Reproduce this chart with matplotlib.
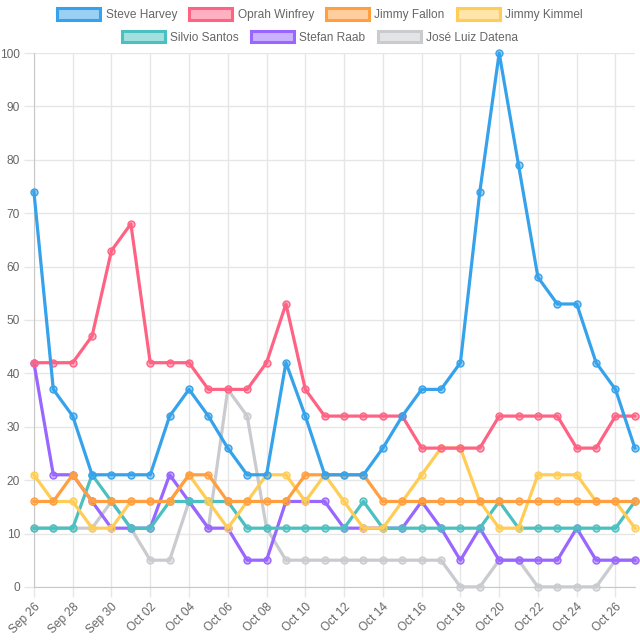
from matplotlib import pyplot as plt
from matplotlib.patches import Patch
from matplotlib.colors import to_rgba

plt.rcParams['font.family'] = ['Liberation Sans', 'DejaVu Sans']

# Datos
dates = ["Sep 26", "Sep 27", "Sep 28", "Sep 29", "Sep 30", "Oct 01", "Oct 02", "Oct 03",
         "Oct 04", "Oct 05", "Oct 06", "Oct 07", "Oct 08", "Oct 09", "Oct 10", "Oct 11",
         "Oct 12", "Oct 13", "Oct 14", "Oct 15", "Oct 16", "Oct 17", "Oct 18", "Oct 19",
         "Oct 20", "Oct 21", "Oct 22", "Oct 23", "Oct 24", "Oct 25", "Oct 26", "Oct 27"]

steve_harvey = [74, 37, 32, 21, 21, 21, 21, 32, 37, 32, 26, 21, 21, 42, 32, 21,
                21, 21, 26, 32, 37, 37, 42, 74, 100, 79, 58, 53, 53, 42, 37, 26]
oprah_winfrey = [42, 42, 42, 47, 63, 68, 42, 42, 42, 37, 37, 37, 42, 53, 37, 32,
                 32, 32, 32, 32, 26, 26, 26, 26, 32, 32, 32, 32, 26, 26, 32, 32]
jimmy_fallon = [16, 16, 21, 16, 16, 16, 16, 16, 21, 21, 16, 16, 16, 16, 21, 21,
                21, 21, 16, 16, 16, 16, 16, 16, 16, 16, 16, 16, 16, 16, 16, 16]
jimmy_kimmel = [21, 16, 16, 11, 11, 16, 16, 16, 21, 16, 11, 16, 21, 21, 16, 21,
                16, 11, 11, 16, 21, 26, 26, 16, 11, 11, 21, 21, 21, 16, 16, 11]
silvio_santos = [11, 11, 11, 21, 16, 11, 11, 16, 16, 16, 16, 11, 11, 11, 11, 11,
                 11, 16, 11, 11, 11, 11, 11, 11, 16, 11, 11, 11, 11, 11, 11, 16]
stefan_raab = [42, 21, 21, 16, 11, 11, 11, 21, 16, 11, 11, 5, 5, 16, 16, 16,
               11, 11, 11, 11, 16, 11, 5, 11, 5, 5, 5, 5, 11, 5, 5, 5]
jose_datena = [11, 11, 11, 11, 16, 11, 5, 5, 16, 11, 37, 32, 11, 5, 5, 5,
               5, 5, 5, 5, 5, 5, 0, 0, 5, 5, 0, 0, 0, 0, 5, 5]

series = [
    ("Steve Harvey", steve_harvey, "#36a2eb"),
    ("Oprah Winfrey", oprah_winfrey, "#ff6384"),
    ("Jimmy Fallon", jimmy_fallon, "#ff9f40"),
    ("Jimmy Kimmel", jimmy_kimmel, "#ffcd56"),
    ("Silvio Santos", silvio_santos, "#4bc0c0"),
    ("Stefan Raab", stefan_raab, "#9966ff"),
    ("José Luiz Datena", jose_datena, "#c9cbcf"),
]

text_color = "#666666"
grid_color = "#e6e6e6"

fig = plt.figure(figsize=(6.4, 6.4), dpi=100)
ax = fig.add_axes([0.053, 0.083, 0.939, 0.834])

x = list(range(len(dates)))
handles = []
for i, (name, values, color) in enumerate(series):
    ax.plot(x, values, color=color, linewidth=2.3, marker="o", markersize=5,
            markerfacecolor=to_rgba(color, 0.5), markeredgecolor=color,
            markeredgewidth=1, zorder=20 - i, clip_on=False)
    handles.append(Patch(facecolor=to_rgba(color, 0.5), edgecolor=color,
                         linewidth=2.2, label=name))

ax.set_xlim(0, len(dates) - 1)
ax.set_ylim(0, 100)
ax.set_yticks(range(0, 101, 10))
ax.set_xticks(x[::2])
ax.set_xticklabels(dates[::2], rotation=45, ha="right", rotation_mode="anchor")

ax.grid(True, color=grid_color, linewidth=1)
ax.set_axisbelow(True)
ax.tick_params(axis="both", color=grid_color, labelcolor=text_color,
               labelsize=8.6, length=7, width=1, pad=3)
for side in ["top", "right"]:
    ax.spines[side].set_visible(False)
for side in ["left", "bottom"]:
    ax.spines[side].set_color("#c8c8c8")

# Leyenda en dos filas centradas
leg_kw = dict(frameon=False, fontsize=8.6, handlelength=3.6, handleheight=1.1,
              handletextpad=0.45, columnspacing=1.0, labelcolor=text_color,
              borderaxespad=0)
fig.legend(handles=handles[:4], ncol=4, loc="center",
           bbox_to_anchor=(0.5, 0.977), **leg_kw)
fig.legend(handles=handles[4:], ncol=3, loc="center",
           bbox_to_anchor=(0.5, 0.942), **leg_kw)

fig.savefig("out.png", dpi=100)
